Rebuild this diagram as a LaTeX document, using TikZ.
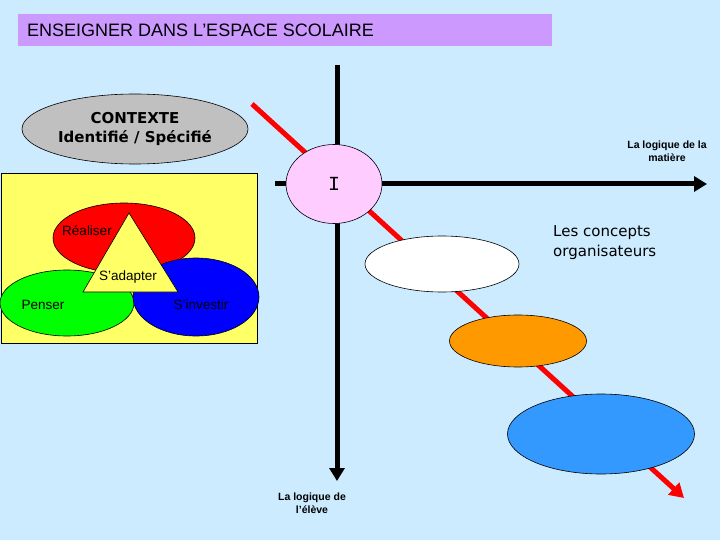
\documentclass[tikz,border=0pt]{standalone}
\usepackage{fontspec}
\setmainfont{Liberation Sans}
\newfontfamily\verd{DejaVu Sans}
\newfontfamily\monof{Liberation Mono}
\usetikzlibrary{arrows.meta,shapes.geometric}
\definecolor{bgblue}{HTML}{CCEBFF}
\definecolor{lav}{HTML}{CC99FF}
\definecolor{ctxgray}{HTML}{C0C0C0}
\definecolor{boxyellow}{HTML}{FFFF66}
\definecolor{rred}{HTML}{FF0000}
\definecolor{ggreen}{HTML}{00FF00}
\definecolor{bblue}{HTML}{0000FF}
\definecolor{pink}{HTML}{FFCCFF}
\definecolor{orng}{HTML}{FF9900}
\definecolor{skyb}{HTML}{3399FF}
\tikzset{
  ell/.style={ellipse, draw=black, line width=0.6pt, inner sep=0pt},
  comic/.style={font=\fontsize{13.5}{15}\selectfont, inner sep=0pt},
  axis/.style={line width=5pt, -{Triangle[length=13pt,width=15pt]}},
  smallbold/.style={font=\bfseries\fontsize{10.5}{13.5}\selectfont, align=center, inner sep=0pt}
}
\begin{document}
\begin{tikzpicture}[x=1pt,y=-1pt]
\useasboundingbox (0,0) rectangle (720,540);
\fill[bgblue] (0,0) rectangle (720,540);
% title
\node[fill=lav, minimum width=534pt, minimum height=32pt, inner sep=0pt] (title) at (285,30) {};
\node[anchor=west, font=\fontsize{18}{20}\selectfont, inner sep=0pt] (titletext) at (27,30) {ENSEIGNER DANS L’ESPACE SCOLAIRE};
% context
\node[ell, fill=ctxgray, minimum width=226pt, minimum height=70pt, align=center, font=\verd\bfseries\fontsize{15}{19}\selectfont] (ctx) at (135,129) {CONTEXTE\\Identifié / Spécifié};
% yellow box
\node[draw=black, line width=0.6pt, fill=boxyellow, minimum width=256pt, minimum height=170pt, inner sep=0pt] (ybox) at (129,258) {};
\node[ell, fill=rred, minimum width=142pt, minimum height=70pt] (realiser) at (124,238) {};
\node[ell, fill=ggreen, minimum width=134pt, minimum height=66pt] (penser) at (67,303) {};
\node[ell, fill=bblue, minimum width=126pt, minimum height=78pt] (investir) at (196,297) {};
\draw[fill=boxyellow, line width=0.6pt] (129,213) coordinate (ta) -- (83,292) coordinate (tb) -- (178,292) coordinate (tc) -- cycle;
\node[comic] (t1) at (87,231) {Réaliser};
\node[comic] (t2) at (128,277) {S'adapter};
\node[comic] (t3) at (43,305) {Penser};
\node[comic] (t4) at (201,305) {S'investir};
% axes
\coordinate (vtop) at (337,65);
\coordinate (vbot) at (337,481);
\coordinate (hleft) at (275,184);
\coordinate (hright) at (707,184);
\draw[axis] (vtop) -- (vbot);
\draw[axis] (hleft) -- (hright);
% red diagonal
\coordinate (rstart) at (252,104);
\coordinate (rend) at (684,498);
\draw[rred, line width=5pt, -{Triangle[length=14pt,width=16pt]}] (rstart) -- (rend);
% ellipses on diagonal
\node[ell, fill=pink, minimum width=96pt, minimum height=79pt, font=\monof\fontsize{20}{22}\selectfont] (I) at (334,184) {I};
\node[ell, fill=white, minimum width=154pt, minimum height=56pt] (e1) at (442,264) {};
\node[ell, fill=orng, minimum width=137pt, minimum height=52pt] (e2) at (518,341) {};
\node[ell, fill=skyb, minimum width=187pt, minimum height=80pt] (e3) at (601,434) {};
% labels
\node[anchor=north west, align=left, inner sep=0pt, font=\verd\fontsize{15}{20}\selectfont] (concepts) at (553,225) {Les concepts\\organisateurs};
\node[smallbold] (matiere) at (667,151) {La logique de la\\matière};
\node[smallbold] (eleve) at (312,503) {La logique de\\l'élève};
\end{tikzpicture}
\end{document}
